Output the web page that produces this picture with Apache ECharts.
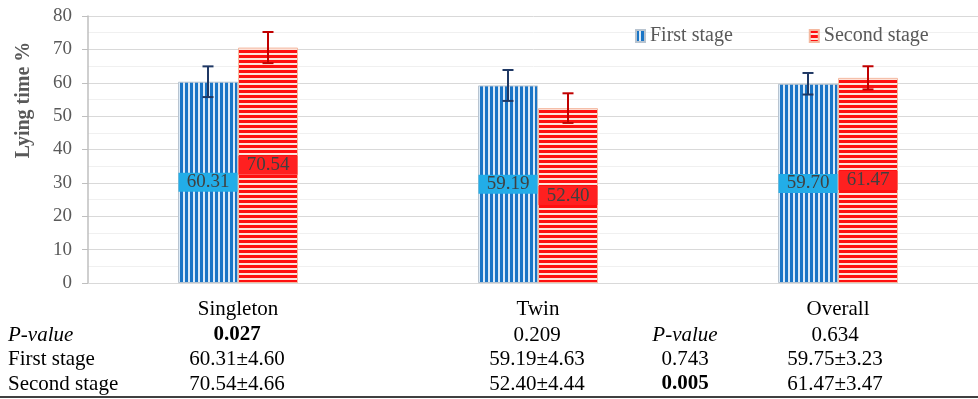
<!DOCTYPE html>
<html><head><meta charset="utf-8">
<script src="https://cdn.jsdelivr.net/npm/echarts@6/dist/echarts.min.js"></script>
<style>html,body{margin:0;padding:0;background:#fff}#c{width:978px;height:399px}</style>
</head><body><div id="c"></div>
<script>
const categories = ['Singleton', 'Twin', 'Overall'];
const firstMean = [60.31, 59.19, 59.70];
const firstSD = [4.60, 4.63, 3.23];
const secondMean = [70.54, 52.40, 61.47];
const secondSD = [4.66, 4.44, 3.47];
const yTicks = [0, 80, 10];
const pRow = ['0.027', '0.209', '0.634'];
const firstRow = ['60.31±4.60', '59.19±4.63', '59.75±3.23'];
const secondRow = ['70.54±4.66', '52.40±4.44', '61.47±3.47'];
const midCol = ['P-value', '0.743', '0.005'];
const rowLabels = ['P-value', 'First stage', 'Second stage'];

function stripes(vertical, bg, fg, period, fgw) {
  const c = document.createElement('canvas');
  c.width = period; c.height = period;
  const g = c.getContext('2d');
  g.fillStyle = bg; g.fillRect(0, 0, period, period);
  g.fillStyle = fg;
  if (vertical) g.fillRect(0, 0, fgw, period); else g.fillRect(0, 0, period, fgw);
  return { image: c, repeat: 'repeat' };
}
const bluePat = stripes(true, '#dcebf8', '#1a75c6', 5, 3);
const redPat = stripes(false, '#fde3da', '#ff1010', 5, 3);

const serif = '"Liberation Serif", "Times New Roman", serif';
const chart = echarts.init(document.getElementById('c'));

function errSeries(name, means, sds, color, side) {
  return {
    type: 'custom', name: name + ' err', z: 10,
    data: means.map((m, i) => [i, m, sds[i]]),
    renderItem: function (params, api) {
      const i = api.value(0), m = api.value(1), s = api.value(2);
      const band = api.size([1, 0])[0];
      const c = api.coord([i, m]);
      const x = c[0] + side * band * 0.1;
      const yt = api.coord([i, m + s])[1];
      const yb = api.coord([i, m - s])[1];
      const st = { stroke: color, lineWidth: 2 };
      const cap = 5.5;
      return { type: 'group', children: [
        { type: 'line', shape: { x1: x, y1: yt, x2: x, y2: yb }, style: st },
        { type: 'line', shape: { x1: x - cap, y1: yt, x2: x + cap, y2: yt }, style: st },
        { type: 'line', shape: { x1: x - cap, y1: yb, x2: x + cap, y2: yb }, style: st }
      ]};
    }
  };
}

function barLabel(bg) {
  return { show: true, position: 'inside', formatter: p => p.value.toFixed(2),
    color: '#404040', fontFamily: serif, fontSize: 19, backgroundColor: bg, borderRadius: 0,
    width: 59, align: 'center', lineHeight: 19, padding: [0, 0, 0, 0] };
}

const tableText = [];
const colX = [237, 537, 835];
const rowY = [335, 359, 384];
const F = '21px ' + serif;
function txt(x, y, s, opts) {
  tableText.push({ type: 'text', x: x, y: y, style: Object.assign({ text: s, fill: '#000', font: F, textAlign: 'center', textVerticalAlign: 'middle' }, opts || {}) });
}
rowLabels.forEach((s, r) => txt(8, rowY[r], s, { textAlign: 'left', font: (r === 0 ? 'italic ' : '') + F }));
pRow.forEach((s, i) => txt(colX[i], rowY[0], s, { font: (s === '0.027' ? 'bold ' : '') + F }));
firstRow.forEach((s, i) => txt(colX[i], rowY[1], s));
secondRow.forEach((s, i) => txt(colX[i], rowY[2], s));
midCol.forEach((s, r) => txt(685, rowY[r], s, { font: (r === 0 ? 'italic ' : (s === '0.005' ? 'bold ' : '')) + F }));
tableText.push({ type: 'line', shape: { x1: 0, y1: 397, x2: 978, y2: 397 }, style: { stroke: '#000', lineWidth: 1.5 } });
tableText.push({ type: 'text', x: 24, y: 100, rotation: Math.PI / 2,
  style: { text: 'Lying time %', fill: '#595959', font: 'bold 20px ' + serif, textAlign: 'center', textVerticalAlign: 'middle' } });

chart.setOption({
  animation: false,
  grid: { left: 88, width: 900, top: 16, bottom: 116, outerBoundsMode: 'none', containLabel: false },
  legend: {
    data: ['First stage', 'Second stage'], left: 630, top: 21, itemWidth: 9, itemHeight: 12, itemGap: 76,
    icon: 'rect', textStyle: { fontFamily: serif, fontSize: 20, color: '#595959' }
  },
  xAxis: {
    type: 'category', data: categories,
    axisLine: { lineStyle: { color: '#d9d9d9', width: 1 } }, axisTick: { show: false },
    axisLabel: { color: '#000', fontFamily: serif, fontSize: 21, margin: 16 }
  },
  yAxis: {
    type: 'value', min: yTicks[0], max: yTicks[1], interval: yTicks[2],
    axisLine: { show: true, lineStyle: { color: '#bfbfbf', width: 1.5 } },
    axisTick: { show: true, length: 6, lineStyle: { color: '#bfbfbf' } },
    axisLabel: { color: '#595959', fontFamily: serif, fontSize: 19, margin: 16 },
    splitLine: { lineStyle: { color: '#d9d9d9' } },
    minorTick: { show: false, splitNumber: 2 },
    minorSplitLine: { show: true, lineStyle: { color: '#f0f0f0' } }
  },
  series: [
    { type: 'bar', name: 'First stage', data: firstMean, barWidth: '20%', barGap: '0%',
      itemStyle: { color: bluePat, borderColor: '#b8c4d0', borderWidth: 1 }, label: barLabel('#22ade8') },
    { type: 'bar', name: 'Second stage', data: secondMean, barWidth: '20%',
      itemStyle: { color: redPat, borderColor: '#f4b9a0', borderWidth: 1 }, label: barLabel('#ff2020') },
    errSeries('First stage', firstMean, firstSD, '#1f3864', -1),
    errSeries('Second stage', secondMean, secondSD, '#c00000', 1)
  ],
  graphic: tableText
});
</script></body></html>
